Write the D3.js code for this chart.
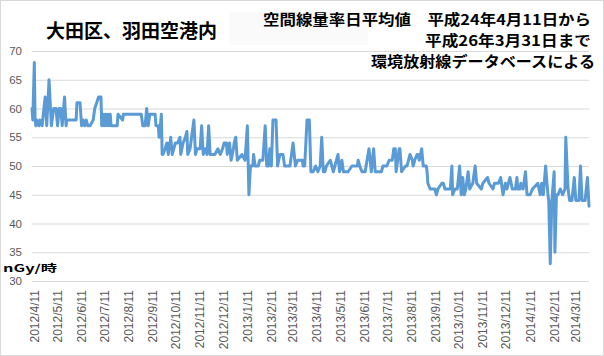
<!DOCTYPE html>
<html><head><meta charset="utf-8">
<script src="https://cdn.jsdelivr.net/npm/d3@7"></script>
<style>body{margin:0;background:#fff;overflow:hidden}</style>
</head><body><svg id="c" width="604" height="356"></svg>
<script>
const titleText = "大田区、羽田空港内";
const noteLines = ["空間線量率日平均値　平成24年4月11日から", "平成26年3月31日まで", "環境放射線データベースによる"];
const unitLabel = "nGy/時";
const startDate = "2012/4/11";
const endDate = "2014/3/31";
const yTicks = [30, 35, 40, 45, 50, 55, 60, 65, 70];
const tickLabels = ["2012/4/11","2012/5/11","2012/6/11","2012/7/11","2012/8/11","2012/9/11","2012/10/11","2012/11/11","2012/12/11","2013/1/11","2013/2/11","2013/3/11","2013/4/11","2013/5/11","2013/6/11","2013/7/11","2013/8/11","2013/9/11","2013/10/11","2013/11/11","2013/12/11","2014/1/11","2014/2/11","2014/3/11"];
// days since 2012/4/11
const dayOffsets = [0,1,3,4,5,6,9,10,13,17,19,22,25,28,31,33,35,37,39,42,44,45,57,58,62,64,66,68,70,72,75,79,81,86,89,90,92,93,95,96,98,99,101,102,105,110,111,117,118,141,143,146,148,150,152,159,160,163,164,165,167,168,169,172,174,176,177,178,179,181,185,188,191,192,195,198,200,201,204,
209,211,213,217,219,221,224,226,228,230,236,240,243,246,248,251,252,255,257,260,261,263,265,271,275,278,280,282,285,286,288,292,294,298,301,303,305,307,309,311,315,317,320,324,326,333,337,340,343,349,350,352,355,358,360,363,366,369,372,374,376,378,380,385,387,389,395,397,400,402,408,413,420,421,423,426,430,435,438,441,443,451,453,458,461,465,467,469,470,474,475,477,482,484,488,491,492,494,497,498,500,503,505,509,510,511,514,520,522,524,529,531,533,540,542,543,546,549,552,554,556,558,560,563,565,569,572,574,580,582,588,590,595,597,602,605,608,611,613,617,620,624,626,627,630,631,634,637,639,643,646,653,656,658,660,663,666,667,669,671,674,675,677,679,682,685,688,689,692,694,697,700,702,706,708,710,714,717,719];
const doseRates = [60,58,68,58,57,58,57,58,57,62,57,65,57,60,60,57,60,60,57,62,57,58,58,61,61,57,58,57,58,57,57,58,60,62,62,57,59,57,59,57,59,57,59,57,57,57,59,58,59,59,57,57,60,57,59,59,57,57,55,56,59,52,52,53,54,52,54,53,55,52,54,54,55,52,54,55,56,52,53,
58,52,53,53,57,52,53,52,57,52,52,53,52,53,54,54,52,54,51,53,54,55,51,52,51,57,45,50,50,52,50,50,51,51,57,50,50,53,50,58,58,50,52,52,50,50,54,50,51,51,50,50,58,58,49,49,50,49,50,55,49,49,50,51,50,49,52,49,51,49,49,50,50,51,50,49,49,53,49,53,49,49,50,50,51,51,53,53,49,53,53,49,50,50,52,51,50,51,52,52,51,53,50,50,49,47,46,46,45,46,47,47,46,46,50,45,46,46,50,45,48,45,46,49,46,47,50,47,46,47,48,47,46,47,47,48,45,47,46,48,46,46,48,46,46,47,46,49,45,45,46,47,45,47,45,50,45,44,33,44,49,35,45,45,46,45,46,55,46,44,44,48,44,44,50,44,44,48,43];

const parse = d3.timeParse("%Y/%m/%d");
const t0 = parse(startDate), t1 = parse(endDate);
const data = dayOffsets.map((d, i) => ({date: d3.timeDay.offset(t0, d), v: doseRates[i]}));

const svg = d3.select("#c");
const W = 604, H = 356;
const pLeft = 32, pRight = 589, pTop = 51, pBottom = 281;

svg.append("rect").attr("x", 0.5).attr("y", 0.5).attr("width", W - 1).attr("height", H - 1)
  .attr("fill", "#fff").attr("stroke", "#d9d9d9");

const x = d3.scaleTime().domain([t0, t1]).range([pLeft, pRight]);
const y = d3.scaleLinear().domain([30, 70]).range([pBottom, pTop]);

const yAxis = d3.axisLeft(y).tickValues(yTicks).tickSize(-(pRight - pLeft)).tickPadding(10);
const gy = svg.append("g").attr("transform", `translate(${pLeft},0)`).call(yAxis);
gy.select(".domain").remove();
gy.selectAll(".tick line").attr("stroke", "#d9d9d9").attr("stroke-width", 1);
gy.selectAll(".tick text").attr("fill", "#595959").style("font-family", "'Liberation Sans', Arial, sans-serif").style("font-size", "11.5px");

const xAxis = d3.axisBottom(x).tickValues(tickLabels.map(parse)).tickSize(0).tickFormat((d, i) => tickLabels[i]);
const gx = svg.append("g").attr("transform", `translate(0,${pBottom})`).call(xAxis);
gx.select(".domain").remove();
gx.selectAll(".tick text")
  .attr("fill", "#595959")
  .style("font-family", "'Liberation Sans', Arial, sans-serif").style("font-size", "12px")
  .attr("transform", "rotate(-90)")
  .attr("text-anchor", "end")
  .attr("x", -9).attr("y", 2).attr("dy", "0.35em");

const line = d3.line().x(d => x(d.date)).y(d => y(d.v));
svg.append("path").datum(data).attr("d", line)
  .attr("fill", "none").attr("stroke", "#5b9bd5").attr("stroke-width", 3)
  .attr("stroke-linejoin", "round").attr("stroke-linecap", "round");

svg.append("rect").attr("x", 229).attr("y", 12).attr("width", 139).attr("height", 33).attr("fill", "#fafafa");

const jp = "'Noto Sans CJK JP', sans-serif";
svg.append("text").attr("x", 46).attr("y", 38).text(titleText)
  .style("font-family", jp).style("font-weight", "bold").style("font-size", "19px").attr("fill", "#000");

const noteY = [25, 46, 67];
const noteRight = [591, 591, 595];
const noteWidth = [328, 166, 224];
noteLines.forEach((t, i) => {
  svg.append("text").attr("x", noteRight[i] - noteWidth[i]).attr("y", noteY[i]).text(t)
    .attr("textLength", noteWidth[i]).attr("lengthAdjust", "spacingAndGlyphs")
    .style("font-family", jp).style("font-weight", "bold").style("font-size", "14.5px").attr("fill", "#000");
});

svg.append("text").attr("x", 3).attr("y", 271.5).text(unitLabel)
  .attr("textLength", 54).attr("lengthAdjust", "spacingAndGlyphs")
  .style("font-family", jp).style("font-weight", "bold").style("font-size", "10.5px").attr("fill", "#000");
</script></body></html>
